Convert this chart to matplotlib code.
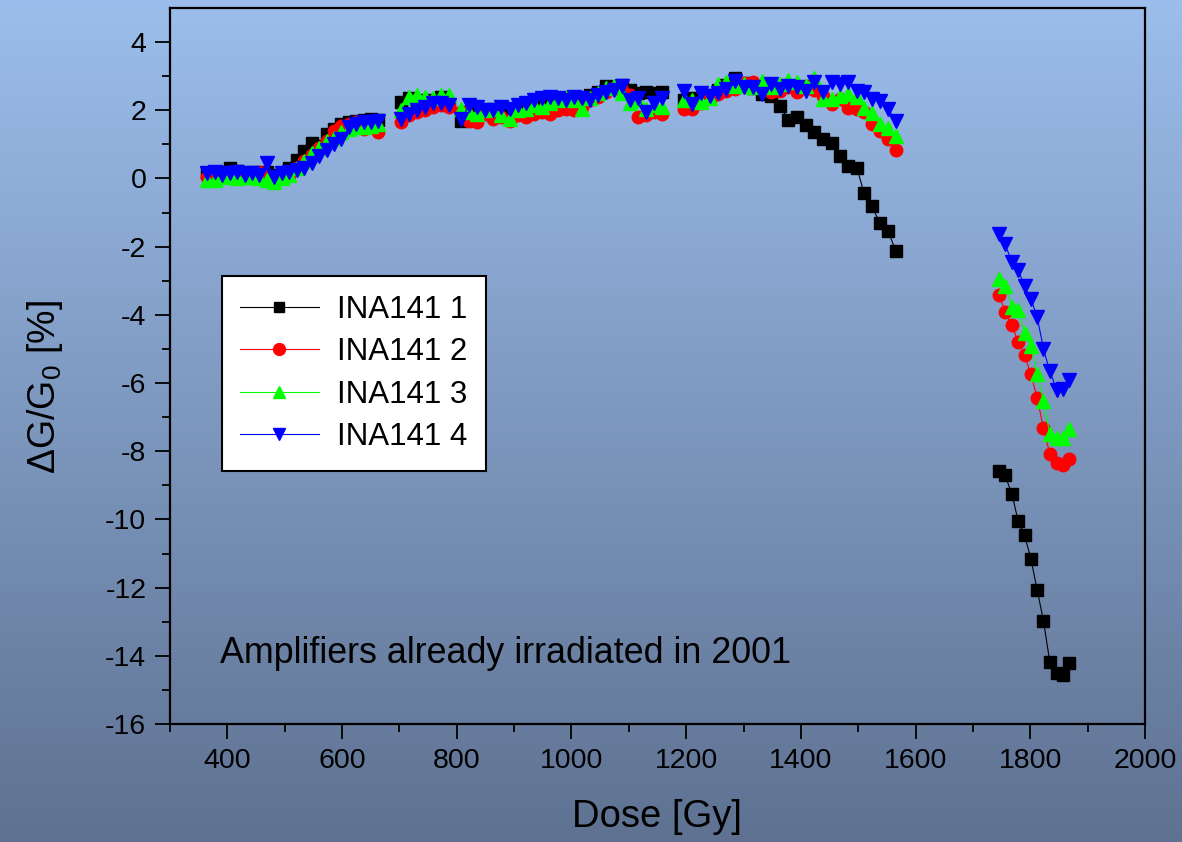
import numpy as np
import matplotlib
matplotlib.use('Agg')
import matplotlib.pyplot as plt

# fonts: Arial look-alike, mathtext for the G0 subscript
plt.rcParams['font.family'] = ['Liberation Sans', 'DejaVu Sans']
plt.rcParams['mathtext.fontset'] = 'custom'
plt.rcParams['mathtext.rm'] = 'Liberation Sans'
plt.rcParams['mathtext.it'] = 'Liberation Sans:italic'
plt.rcParams['axes.unicode_minus'] = False

# ---- data (5 runs of dose, gaps between them) ----
dose_a = [365, 378, 391, 404, 417, 430, 443, 456, 469, 482, 495, 508,
          521, 534, 547, 560, 573, 586, 599, 612, 625, 638, 651, 662]
dose_b = [702, 716, 730, 744, 758, 772, 786]
dose_c = [808, 822, 836, 850, 864, 878, 892, 906, 920, 934, 948, 962, 976,
          990, 1004, 1018, 1032, 1046, 1060, 1074, 1088, 1102, 1116, 1130,
          1144, 1158]
dose_d = [1196, 1211, 1226, 1241, 1256, 1270, 1285, 1301, 1316, 1332, 1348,
          1364, 1378, 1393, 1409, 1423, 1439, 1454, 1468, 1482, 1498, 1510,
          1524, 1538, 1552, 1566]
dose_e = [1746, 1756, 1768, 1779, 1790, 1801, 1812, 1823, 1834, 1846, 1857,
          1868]

ina1 = [
    [0.15, 0.18, 0.20, 0.30, 0.22, 0.15, 0.20, 0.15, 0.20, 0.10, 0.05, 0.30,
     0.55, 0.80, 1.05, 0.95, 1.30, 1.45, 1.60, 1.65, 1.70, 1.72, 1.75, 1.72],
    [2.25, 2.35, 2.30, 2.25, 2.30, 2.40, 2.15],
    [1.70, 1.95, 2.00, 1.95, 1.90, 2.00, 2.05, 2.00, 2.10, 2.15, 2.20, 2.25,
     2.30, 2.30, 2.35, 2.35, 2.45, 2.55, 2.70, 2.65, 2.75, 2.60, 2.50, 2.55,
     2.50, 2.55],
    [2.30, 2.35, 2.30, 2.45, 2.60, 2.75, 2.94, 2.80, 2.65, 2.47, 2.41, 2.12,
     1.71, 1.80, 1.56, 1.36, 1.15, 1.03, 0.65, 0.36, 0.30, -0.43, -0.82,
     -1.32, -1.55, -2.14],
    [-8.59, -8.71, -9.25, -10.06, -10.47, -11.15, -12.07, -12.97, -14.18,
     -14.50, -14.57, -14.20],
]
ina2 = [
    [0.05, 0.10, 0.12, 0.20, 0.10, 0.05, 0.10, 0.20, 0.08, 0.05, 0.00, 0.10,
     0.30, 0.50, 0.70, 0.90, 1.10, 1.40, 1.55, 1.60, 1.65, 1.45, 1.55, 1.35],
    [1.65, 1.85, 1.95, 2.00, 2.10, 2.15, 2.10],
    [1.95, 1.70, 1.65, 1.90, 1.75, 1.80, 1.70, 1.85, 1.80, 1.90, 1.95, 1.90,
     2.00, 2.05, 2.00, 2.10, 2.30, 2.40, 2.55, 2.65, 2.60, 2.45, 1.80, 1.85,
     1.95, 1.90],
    [2.03, 2.03, 2.21, 2.35, 2.47, 2.57, 2.62, 2.80, 2.82, 2.72, 2.53, 2.57,
     2.67, 2.53, 2.72, 2.60, 2.42, 2.18, 2.33, 2.08, 2.05, 1.94, 1.59, 1.40,
     1.15, 0.84],
    [-3.43, -3.91, -4.31, -4.79, -5.18, -5.74, -6.43, -7.33, -8.08, -8.34,
     -8.41, -8.22],
]
ina3 = [
    [-0.05, -0.05, 0.05, 0.10, 0.00, 0.05, 0.05, 0.00, -0.05, -0.10, 0.00,
     0.10, 0.30, 0.50, 0.75, 0.90, 1.10, 1.20, 1.35, 1.45, 1.50, 1.50, 1.55,
     1.60],
    [2.00, 2.40, 2.45, 2.40, 2.35, 2.45, 2.45],
    [2.05, 1.95, 1.90, 2.00, 2.05, 1.85, 1.75, 2.00, 2.05, 2.15, 2.10, 2.20,
     2.30, 2.40, 2.30, 2.05, 2.35, 2.50, 2.65, 2.70, 2.50, 2.20, 2.30, 2.05,
     2.15, 2.10],
    [2.30, 2.30, 2.25, 2.35, 2.77, 2.82, 2.72, 2.77, 2.67, 2.87, 2.67, 2.77,
     2.89, 2.82, 2.72, 2.96, 2.33, 2.33, 2.43, 2.47, 2.38, 2.08, 1.91, 1.59,
     1.49, 1.25],
    [-2.94, -3.14, -3.76, -3.86, -4.53, -4.92, -5.72, -6.53, -7.49, -7.61,
     -7.62, -7.34],
]
ina4 = [
    [0.15, 0.20, 0.10, 0.15, 0.20, 0.10, 0.15, 0.10, 0.45, 0.05, 0.15, 0.20,
     0.25, 0.30, 0.45, 0.65, 0.85, 1.00, 1.15, 1.50, 1.60, 1.65, 1.65, 1.70],
    [1.75, 1.90, 2.00, 2.10, 2.20, 2.20, 2.15],
    [1.75, 2.15, 2.10, 2.00, 2.00, 2.10, 2.05, 2.15, 2.20, 2.30, 2.35, 2.40,
     2.35, 2.30, 2.40, 2.35, 2.30, 2.45, 2.55, 2.60, 2.70, 2.30, 2.35, 1.95,
     2.20, 2.35],
    [2.57, 2.18, 2.52, 2.43, 2.52, 2.62, 2.87, 2.67, 2.67, 2.47, 2.77, 2.62,
     2.72, 2.67, 2.57, 2.82, 2.53, 2.82, 2.77, 2.82, 2.57, 2.53, 2.33, 2.28,
     2.03, 1.69],
    [-1.64, -1.93, -2.45, -2.69, -3.16, -3.53, -4.06, -5.00, -5.65, -6.19,
     -6.17, -5.90],
]

labels = ['INA141 1', 'INA141 2', 'INA141 3', 'INA141 4']
colors = ['black', '#ff0000', '#00ff00', '#0000ff']
markers = ['s', 'o', '^', 'v']
msizes = [8, 9, 9.5, 9.5]


def join_runs(parts):
    # glue the runs together with a NaN so the line breaks at each gap
    out = []
    for p in parts:
        out += list(p) + [np.nan]
    return np.array(out[:-1], dtype=float)


def main():
    fig = plt.figure(figsize=(11.82, 8.42), dpi=100)

    # gradient background over the whole figure
    bg = fig.add_axes([0, 0, 1, 1], zorder=-10)
    top = np.array([0.610, 0.745, 0.925])
    bot = np.array([0.370, 0.445, 0.570])
    t = np.linspace(0, 1, 256)[:, None, None]
    grad = top * (1 - t) + bot * t
    bg.imshow(np.repeat(grad, 2, axis=1), aspect='auto', extent=[0, 1, 0, 1])
    bg.axis('off')

    ax = fig.add_axes([0.1438, 0.1401, 0.8249, 0.8504])
    ax.patch.set_alpha(0)

    dose = join_runs([dose_a, dose_b, dose_c, dose_d, dose_e])
    for vals, lab, c, m, ms in zip([ina1, ina2, ina3, ina4], labels, colors,
                                   markers, msizes):
        ax.plot(dose, join_runs(vals), color=c, lw=0.8, marker=m,
                markersize=ms, markeredgecolor=c, label=lab)

    ax.set_xlim(300, 2000)
    ax.set_ylim(-16, 5)
    ax.set_xticks(np.arange(400, 2001, 200))
    ax.set_xticks(np.arange(300, 2001, 100), minor=True)
    ax.set_yticks(np.arange(-16, 5, 2))
    ax.set_yticks(np.arange(-16, 5, 1), minor=True)

    ax.tick_params(which='major', direction='out', length=11, width=1.3,
                   labelsize=20.5, top=False, right=False, pad=6)
    ax.tick_params(which='minor', direction='out', length=6, width=1.3,
                   top=False, right=False)
    for s in ax.spines.values():
        s.set_linewidth(1.6)

    ax.set_xlabel('Dose [Gy]', fontsize=27.5)
    ax.xaxis.set_label_coords(0.5, -0.104)
    ax.set_ylabel('ΔG/G$_0$ [%]', fontsize=27)
    ax.yaxis.set_label_coords(-0.108, 0.47)

    leg = ax.legend(loc='upper left', bbox_to_anchor=(0.053, 0.626),
                    borderaxespad=0, fontsize=22.5, fancybox=False,
                    framealpha=1, edgecolor='black', handlelength=2.5,
                    handletextpad=0.6, labelspacing=0.4, borderpad=0.6,
                    markerscale=0.95)
    leg.get_frame().set_linewidth(1.5)

    ax.text(0.051, 0.098, 'Amplifiers already irradiated in 2001',
            transform=ax.transAxes, fontsize=25.8, va='center')

    fig.savefig('out.png', dpi=100)


if __name__ == '__main__':
    main()
